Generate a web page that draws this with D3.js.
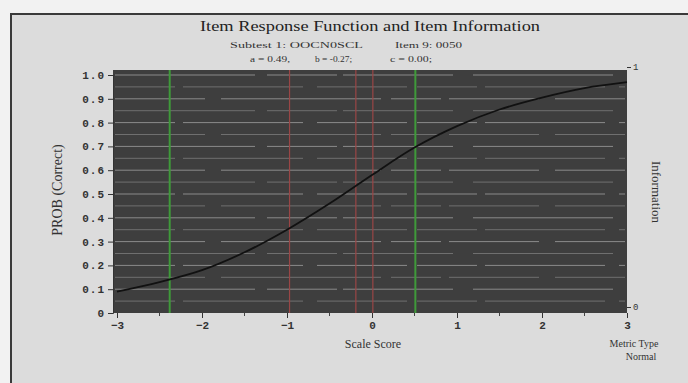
<!DOCTYPE html>
<html>
<head>
<meta charset="utf-8">
<script src="https://cdn.jsdelivr.net/npm/d3@7"></script>
<style>
  html, body { margin: 0; padding: 0; background: #f2f2f2; }
  svg { display: block; }
</style>
</head>
<body>
<svg id="chart" width="688" height="383"></svg>
<script>
// Item response function for one item, scale score (theta) vs probability correct
const thetaPoints = [-3, -2.5, -2, -1.5, -1, -0.5, 0, 0.5, 1, 1.5, 2, 2.5, 3];
const probCorrect = [0.09, 0.13, 0.18, 0.255, 0.35, 0.46, 0.58, 0.695, 0.785, 0.855, 0.905, 0.945, 0.97];

// Reference lines on the theta axis
const greenMarkers = [-2.38, 0.51];
const redMarkers = [-0.97, -0.19, 0.01];

// Tick values and labels
const yTickValues = [0, 0.1, 0.2, 0.3, 0.4, 0.5, 0.6, 0.7, 0.8, 0.9, 1.0];
const yTickLabels = ["0", "0.1", "0.2", "0.3", "0.4", "0.5", "0.6", "0.7", "0.8", "0.9", "1.0"];
const xTickValues = [-3, -2, -1, 0, 1, 2, 3];
const xMinorTicks = [-2.5, -1.5, -0.5, 0.5, 1.5, 2.5];
const infoTickValues = [0, 1];

// Header text
const titleText = "Item Response Function and Item Information";
const subtitleLeft = "Subtest 1: OOCN0SCL";
const subtitleRight = "Item 9: 0050";
const paramLabels = ["a = 0.49,", "b = -0.27;", "c = 0.00;"];

const svg = d3.select("#chart");
const W = 688, H = 383;

const x = d3.scaleLinear().domain([-3, 3]).range([117, 627]);
const y = d3.scaleLinear().domain([0, 1]).range([313, 75]);
const yInfo = d3.scaleLinear().domain([0, 1]).range([307, 67]);

// page + outer frame
svg.append("rect").attr("x", 11).attr("y", 14).attr("width", W).attr("height", H)
  .attr("fill", "#dcdcdc").attr("stroke", "#3a3a3a").attr("stroke-width", 2);

// plot panel
const px0 = x(-3) - 4, px1 = x(3), py0 = y(1) - 5, py1 = y(0);
svg.append("rect").attr("x", px0).attr("y", py0)
  .attr("width", px1 - px0).attr("height", py1 - py0)
  .attr("fill", "#3e3e3e");

// horizontal grid lines
const gridLevels = d3.range(0.05, 1.0001, 0.05);
svg.append("g").selectAll("line").data(gridLevels).join("line")
  .attr("x1", px0 + 2).attr("x2", px1 - 2)
  .attr("y1", d => y(d)).attr("y2", d => y(d))
  .attr("stroke", (d, i) => i % 2 ? "#b4b4b4" : "#8a8a8a")
  .attr("stroke-width", 1)
  .attr("stroke-dasharray", (d, i) => i % 3 === 0 ? "60 8 120 14 90 10" : (i % 3 === 1 ? "140 12 70 6 110 20" : "90 16 160 10 50 8"))
  .attr("opacity", 0.65);

// vertical marker lines
svg.append("g").selectAll("line").data(greenMarkers).join("line")
  .attr("x1", d => x(d)).attr("x2", d => x(d))
  .attr("y1", py0).attr("y2", py1)
  .attr("stroke", "#3f9a3a").attr("stroke-width", 2);
svg.append("g").selectAll("line").data(redMarkers).join("line")
  .attr("x1", d => x(d)).attr("x2", d => x(d))
  .attr("y1", py0).attr("y2", py1)
  .attr("stroke", "#9a4646").attr("stroke-width", 1.2);

// response curve
const line = d3.line().x((d, i) => x(thetaPoints[i])).y(d => y(d)).curve(d3.curveMonotoneX);
svg.append("path").datum(probCorrect)
  .attr("d", line)
  .attr("fill", "none").attr("stroke", "#111").attr("stroke-width", 1.8);

// axes
const tickFont = "'Liberation Mono', 'DejaVu Sans Mono', monospace";

const yAxis = svg.append("g").attr("transform", `translate(${px0},0)`)
  .call(d3.axisLeft(y).tickValues(yTickValues)
    .tickFormat((d, i) => yTickLabels[i]).tickSize(5).tickPadding(3));
yAxis.select(".domain").attr("stroke", "#333");
yAxis.selectAll("line").attr("stroke", "#333");
yAxis.selectAll("text").attr("font-family", tickFont).attr("font-size", 11)
  .attr("font-weight", "bold").attr("fill", "#333").attr("letter-spacing", 1);

const xAxis = svg.append("g").attr("transform", `translate(0,${py1})`)
  .call(d3.axisBottom(x).tickValues(xTickValues).tickFormat(d3.format("d"))
    .tickSize(5).tickPadding(3));
xAxis.select(".domain").remove();
xAxis.selectAll("line").attr("stroke", "#333");
xAxis.selectAll("text").attr("font-family", tickFont).attr("font-size", 11)
  .attr("font-weight", "bold").attr("fill", "#333");
svg.append("g").selectAll("line").data(xMinorTicks).join("line")
  .attr("x1", d => x(d)).attr("x2", d => x(d))
  .attr("y1", py1).attr("y2", py1 + 3).attr("stroke", "#444");

const infoAxis = svg.append("g").attr("transform", `translate(${px1},0)`)
  .call(d3.axisRight(yInfo).tickValues(infoTickValues).tickFormat(d3.format("d"))
    .tickSize(4).tickPadding(2));
infoAxis.select(".domain").remove();
infoAxis.selectAll("line").attr("stroke", "#333");
infoAxis.selectAll("text").attr("font-family", tickFont).attr("font-size", 9)
  .attr("fill", "#333");

// titles and labels
const serif = "'Liberation Serif', 'DejaVu Serif', serif";
svg.append("text").attr("x", 370).attr("y", 31).attr("text-anchor", "middle")
  .attr("font-family", serif).attr("font-size", 15.5).attr("fill", "#222")
  .attr("textLength", 340).attr("lengthAdjust", "spacingAndGlyphs")
  .text(titleText);
svg.append("text").attr("x", 230).attr("y", 48)
  .attr("font-family", serif).attr("font-size", 9).attr("fill", "#333")
  .attr("textLength", 133).attr("lengthAdjust", "spacingAndGlyphs")
  .text(subtitleLeft);
svg.append("text").attr("x", 395).attr("y", 48)
  .attr("font-family", serif).attr("font-size", 9).attr("fill", "#333")
  .attr("textLength", 67).attr("lengthAdjust", "spacingAndGlyphs")
  .text(subtitleRight);
svg.append("g").selectAll("text").data(paramLabels).join("text")
  .attr("x", (d, i) => [250, 315, 390][i]).attr("y", 62)
  .attr("font-family", serif).attr("font-size", 9).attr("fill", "#333")
  .attr("textLength", (d, i) => [40, 37, 42][i]).attr("lengthAdjust", "spacingAndGlyphs")
  .text(d => d);

svg.append("text").attr("transform", "translate(62,190) rotate(-90)")
  .attr("text-anchor", "middle").attr("font-family", serif).attr("font-size", 14)
  .attr("fill", "#333").text("PROB (Correct)");
svg.append("text").attr("x", 373).attr("y", 348).attr("text-anchor", "middle")
  .attr("font-family", serif).attr("font-size", 12).attr("fill", "#333")
  .text("Scale Score");
svg.append("text").attr("transform", "translate(652,192) rotate(90)")
  .attr("text-anchor", "middle").attr("font-family", serif).attr("font-size", 13)
  .attr("fill", "#333").text("Information");
svg.append("text").attr("x", 634).attr("y", 347).attr("text-anchor", "middle")
  .attr("font-family", serif).attr("font-size", 10).attr("fill", "#333")
  .text("Metric Type");
svg.append("text").attr("x", 641).attr("y", 360).attr("text-anchor", "middle")
  .attr("font-family", serif).attr("font-size", 10).attr("fill", "#333")
  .text("Normal");
</script>
</body>
</html>
